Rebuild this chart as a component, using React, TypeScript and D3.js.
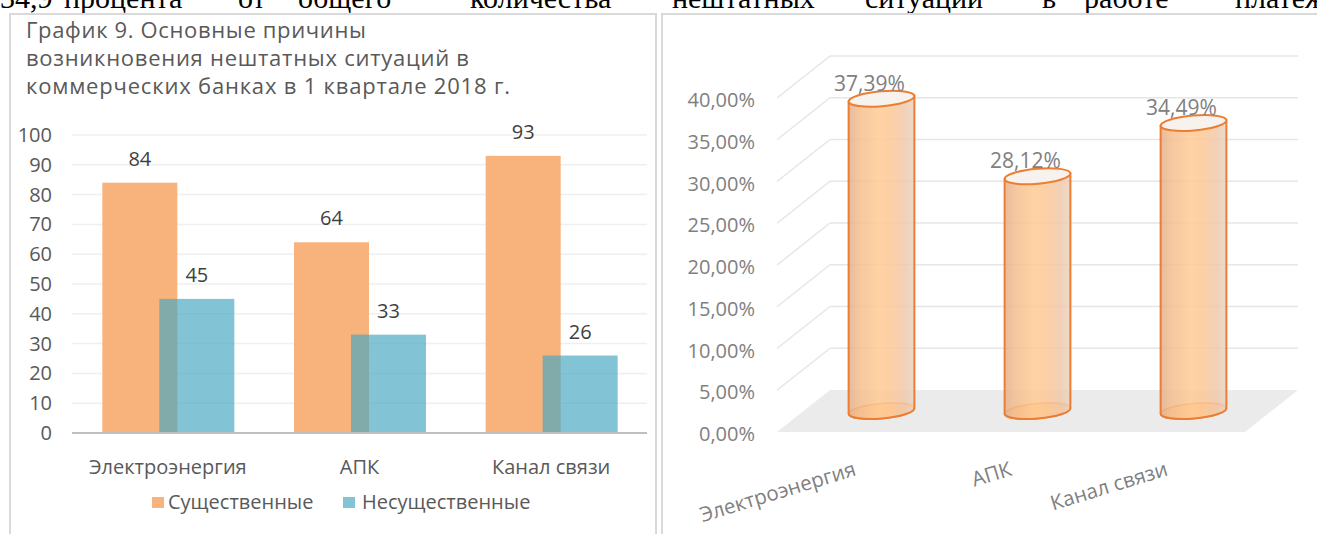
import React from 'react';
import * as d3 from 'd3';

const categories = ['Электроэнергия', 'АПК', 'Канал связи'];
const significant = [84, 64, 93];
const insignificant = [45, 33, 26];
const seriesNames = ['Существенные', 'Несущественные'];
const leftTicks = [0, 10, 20, 30, 40, 50, 60, 70, 80, 90, 100];
const shares = [37.39, 28.12, 34.49];
const rightTicks = [0, 5, 10, 15, 20, 25, 30, 35, 40];
const titleLines = [
  'График 9. Основные причины',
  'возникновения нештатных ситуаций в',
  'коммерческих банках в 1 квартале 2018 г.',
];
const titleWidths = [340, 443, 484];
const bodyWords = ['34,9', 'процента', 'от', 'общего', 'количества', 'нештатных', 'ситуаций', 'в', 'работе', 'платежной'];
const bodyWordX = [0, 64, 238, 298, 470, 672, 865, 1042, 1084, 1235];

const FONT = "'Open Sans', 'Liberation Sans', sans-serif";
const ORANGE = '#f8b27c';
const BLUE = '#45a7c0';
const CYL = '#ed7d31';

const fmtPct = (v: number) => v.toFixed(2).replace('.', ',') + '%';

export default function App() {
  // left chart scales
  const x = d3.scaleBand<string>().domain(categories).range([72, 647]);
  const y = d3.scaleLinear().domain([0, 100]).range([433, 135]);
  const barW = 75;
  const offO = -65.5;
  const offB = -8.5;

  // right chart scales (pseudo 3D)
  const xr = d3.scaleBand<string>().domain(categories).range([777, 1245]);
  const yr = d3.scaleLinear().domain([0, 40]).range([432, 98]);
  const DX = 53;
  const DY = -42;
  const rx = 33;
  const ry = 7.5;
  const rot = -5;
  const th = (rot * Math.PI) / 180;
  const ex = rx * Math.cos(th);
  const ey = rx * Math.sin(th);

  return (
    <svg width={1317} height={534} style={{ position: 'absolute', left: 0, top: 0, background: '#fff' }}>
      <defs>
        <linearGradient id="cylGrad" x1="0" x2="1" y1="0" y2="0">
          <stop offset="0" stopColor="#e3b08c" />
          <stop offset="0.15" stopColor="#f2bd8e" />
          <stop offset="0.45" stopColor="#ffcb94" />
          <stop offset="0.62" stopColor="#fdc895" />
          <stop offset="0.85" stopColor="#f0c8aa" />
          <stop offset="1" stopColor="#e9d3c6" />
        </linearGradient>
      </defs>

      {/* body text line cut at top */}
      {bodyWords.map((w, i) => (
        <text key={i} x={bodyWordX[i]} y={8} fontFamily="'Liberation Serif', serif" fontSize={30} fill="#000">
          {w}
        </text>
      ))}

      {/* panels */}
      <rect x={10} y={14} width={646} height={540} fill="#fff" stroke="#d9d9d9" strokeWidth={2} />
      <rect x={662} y={14} width={670} height={540} fill="#fff" stroke="#d9d9d9" strokeWidth={2} />

      {/* left title */}
      {titleLines.map((t, i) => (
        <text
          key={i}
          x={26}
          y={38 + i * 28}
          fontFamily={FONT}
          fontSize={22}
          fill="#595959"
          textLength={titleWidths[i]}
          lengthAdjust="spacing"
        >
          {t}
        </text>
      ))}

      {/* left gridlines */}
      {leftTicks.map((t) =>
        t === 0 ? null : (
          <line key={t} x1={72} x2={647} y1={y(t)} y2={y(t)} stroke="#efefef" strokeWidth={1.5} />
        )
      )}
      {leftTicks.map((t) => (
        <text key={'l' + t} x={52} y={y(t) + 7} textAnchor="end" fontFamily={FONT} fontSize={20} fill="#595959">
          {t}
        </text>
      ))}

      {/* bars */}
      {categories.map((c, i) => {
        const cx = (x(c) as number) + x.bandwidth() / 2;
        return (
          <g key={c}>
            <rect x={cx + offO} y={y(significant[i])} width={barW} height={y(0) - y(significant[i])} fill={ORANGE} />
            <rect x={cx + offB} y={y(insignificant[i])} width={barW} height={y(0) - y(insignificant[i])} fill={BLUE} fillOpacity={0.67} />
            <text x={cx + offO + barW / 2} y={y(significant[i]) - 17} textAnchor="middle" fontFamily={FONT} fontSize={20} fill="#404040">
              {significant[i]}
            </text>
            <text x={cx + offB + barW / 2} y={y(insignificant[i]) - 17} textAnchor="middle" fontFamily={FONT} fontSize={20} fill="#404040">
              {insignificant[i]}
            </text>
            <text x={cx} y={474} textAnchor="middle" fontFamily={FONT} fontSize={20} fill="#595959">
              {c}
            </text>
          </g>
        );
      })}
      <line x1={72} x2={647} y1={y(0)} y2={y(0)} stroke="#bfbfbf" strokeWidth={2} />

      {/* legend */}
      <rect x={152} y={497} width={12} height={11} fill={ORANGE} />
      <text x={168} y={509} fontFamily={FONT} fontSize={20} fill="#595959">{seriesNames[0]}</text>
      <rect x={343} y={497} width={12} height={11} fill={BLUE} fillOpacity={0.67} />
      <text x={362} y={509} fontFamily={FONT} fontSize={20} fill="#595959">{seriesNames[1]}</text>

      {/* right chart floor */}
      <polygon
        points={`${777},${yr(0)} ${777 + DX},${yr(0) + DY} ${1245 + DX},${yr(0) + DY} ${1245},${yr(0)}`}
        fill="#ebebeb"
      />
      {rightTicks.map((t) =>
        t === 0 ? null : (
          <g key={'r' + t}>
            <line x1={777} y1={yr(t)} x2={777 + DX} y2={yr(t) + DY} stroke="#e6e6e6" strokeWidth={1.5} />
            <line x1={777 + DX} y1={yr(t) + DY} x2={1245 + DX} y2={yr(t) + DY} stroke="#e6e6e6" strokeWidth={1.5} />
          </g>
        )
      )}
      {rightTicks.map((t) => (
        <text key={'rl' + t} x={755} y={yr(t) + 9} textAnchor="end" fontFamily={FONT} fontSize={20} fill="#808080">
          {fmtPct(t)}
        </text>
      ))}

      {/* cylinders */}
      {categories.map((c, i) => {
        const cx = (xr(c) as number) + xr.bandwidth() / 2 + DX / 2;
        const top = yr(shares[i]) + DY / 2;
        const bot = yr(0) + DY / 2;
        const body = `M${cx - ex},${top - ey} L${cx - ex},${bot - ey} A${rx},${ry} ${rot} 0 0 ${cx + ex},${bot + ey} L${cx + ex},${top + ey} Z`;
        return (
          <g key={'c' + c}>
            <ellipse cx={cx} cy={bot} rx={rx} ry={ry} transform={`rotate(${rot} ${cx} ${bot})`} fill="#fcc38c" stroke={CYL} strokeWidth={1.8} />
            <path d={body} fill="url(#cylGrad)" fillOpacity={0.85} stroke={CYL} strokeWidth={2} />
            <ellipse cx={cx} cy={top} rx={rx} ry={ry} transform={`rotate(${rot} ${cx} ${top})`} fill="#f7f2ee" stroke={CYL} strokeWidth={2} />
            <text x={cx - 12} y={top - 8} textAnchor="middle" fontFamily={FONT} fontSize={21} fill="#808080">
              {fmtPct(shares[i])}
            </text>
            <text
              transform={`translate(${(xr(c) as number) + xr.bandwidth() / 2 + 2},${475}) rotate(-17)`}
              textAnchor="end"
              fontFamily={FONT}
              fontSize={20.5}
              fill="#808080"
            >
              {c}
            </text>
          </g>
        );
      })}
    </svg>
  );
}
